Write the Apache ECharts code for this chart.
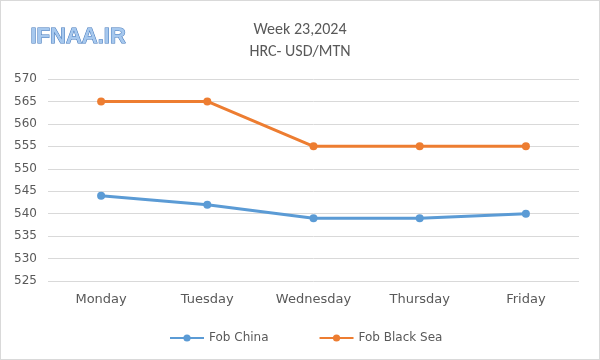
<!DOCTYPE html>
<html>
<head>
<meta charset="utf-8">
<script src="https://cdn.jsdelivr.net/npm/echarts@6/dist/echarts.min.js"></script>
<style>
html,body{margin:0;padding:0;background:#fff;}
#c{width:600px;height:360px;box-sizing:border-box;border:1px solid #d9d9d9;}
</style>
</head>
<body>
<div id="c"></div>
<script>
const categories = ['Monday', 'Tuesday', 'Wednesday', 'Thursday', 'Friday'];
const fobChina = [544, 542, 539, 539, 540];
const fobBlackSea = [565, 565, 555, 555, 555];
const titleLines = ['Week 23,2024', 'HRC- USD/MTN'];
const logoText = 'IFNAA.IR';

const chart = echarts.init(document.getElementById('c'), null, {renderer: 'canvas'});
const font = 'Calibri, Carlito, "Open Sans", sans-serif';
const labelFont = 'Tahoma, "DejaVu Sans", sans-serif';
chart.setOption({
  animation: false,
  textStyle: {fontFamily: font},
  title: {
    text: titleLines.join('\n'),
    left: 'center',
    top: 13,
    textStyle: {fontSize: 16, fontWeight: 'normal', color: '#595959', lineHeight: 22, fontFamily: font}
  },
  graphic: [{
    type: 'text',
    left: 29,
    top: 24,
    style: {
      text: logoText,
      font: 'bold 22px "Liberation Sans", Arial, sans-serif',
      fill: '#a6c8ee',
      stroke: '#3f74b8',
      lineWidth: 1,
      shadowColor: 'rgba(0,0,0,0.3)',
      shadowBlur: 2,
      shadowOffsetX: 1,
      shadowOffsetY: 1
    }
  }],
  legend: {
    bottom: 10,
    left: 163,
    itemGap: 50,
    itemWidth: 34,
    itemHeight: 9,
    textStyle: {color: '#595959', fontSize: 12, fontFamily: labelFont},
    data: ['Fob China', 'Fob Black Sea']
  },
  grid: {left: 47, right: 20, top: 78, bottom: 78},
  xAxis: {
    type: 'category',
    data: categories,
    boundaryGap: true,
    axisLine: {show: false},
    axisTick: {show: false},
    axisLabel: {color: '#595959', fontSize: 13, margin: 12, fontFamily: labelFont}
  },
  yAxis: {
    type: 'value',
    min: 525,
    max: 570,
    interval: 5,
    axisLine: {show: false},
    axisTick: {show: false},
    axisLabel: {color: '#595959', fontSize: 12, margin: 11, fontFamily: labelFont},
    splitLine: {lineStyle: {color: '#d9d9d9', width: 1}}
  },
  series: [{
    name: 'Fob China',
    type: 'line',
    data: fobChina,
    symbol: 'circle',
    symbolSize: 8,
    color: '#5B9BD5',
    lineStyle: {width: 3, color: '#5B9BD5'},
    itemStyle: {color: '#5B9BD5'}
  }, {
    name: 'Fob Black Sea',
    type: 'line',
    data: fobBlackSea,
    symbol: 'circle',
    symbolSize: 8,
    color: '#ED7D31',
    lineStyle: {width: 3, color: '#ED7D31'},
    itemStyle: {color: '#ED7D31'}
  }]
});
</script>
</body>
</html>
